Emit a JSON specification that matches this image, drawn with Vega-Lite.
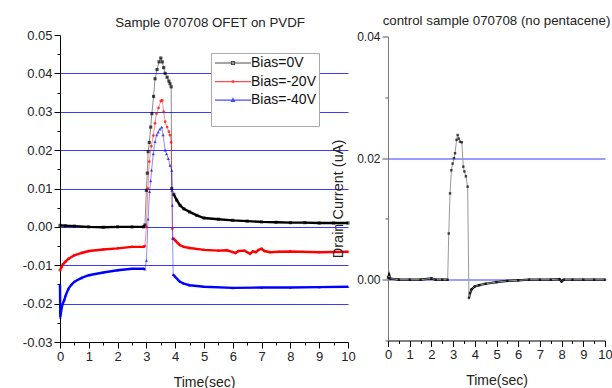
{
  "$schema": "https://vega.github.io/schema/vega-lite/v6.json",
  "background": "white",
  "padding": {"left": 22, "top": 14, "right": 2, "bottom": 0},
  "bounds": "flush",
  "spacing": 40,
  "center": true,
  "config": {
    "font": "Liberation Sans",
    "view": {"stroke": null},
    "axis": {"domainColor": "black", "tickColor": "black", "labelColor": "#222", "titleColor": "#222", "titleFontWeight": "normal", "labelFontSize": 13, "grid": false, "labelOverlap": false, "labelFlush": false},
    "title": {"fontSize": 13.3, "fontWeight": "normal", "color": "#222"}
  },
  "datasets": {
    "ofet": [
      {"s": "Bias=0V", "t": 0, "v": 0.0004}, {"s": "Bias=0V", "t": 0.2, "v": 0.0003}, {"s": "Bias=0V", "t": 0.5, "v": 0.0002},
      {"s": "Bias=0V", "t": 1.0, "v": 0.0}, {"s": "Bias=0V", "t": 1.5, "v": -0.0001}, {"s": "Bias=0V", "t": 2.0, "v": 0.0},
      {"s": "Bias=0V", "t": 2.5, "v": 0.0}, {"s": "Bias=0V", "t": 2.9, "v": 0.0}, {"s": "Bias=0V", "t": 2.95, "v": 0.0005},
      {"s": "Bias=0V", "t": 3.0, "v": 0.0095}, {"s": "Bias=0V", "t": 3.03, "v": 0.014}, {"s": "Bias=0V", "t": 3.06, "v": 0.0196},
      {"s": "Bias=0V", "t": 3.1, "v": 0.022}, {"s": "Bias=0V", "t": 3.15, "v": 0.026}, {"s": "Bias=0V", "t": 3.19, "v": 0.0295},
      {"s": "Bias=0V", "t": 3.25, "v": 0.034}, {"s": "Bias=0V", "t": 3.3, "v": 0.0386}, {"s": "Bias=0V", "t": 3.37, "v": 0.041},
      {"s": "Bias=0V", "t": 3.44, "v": 0.043}, {"s": "Bias=0V", "t": 3.5, "v": 0.044}, {"s": "Bias=0V", "t": 3.55, "v": 0.043},
      {"s": "Bias=0V", "t": 3.6, "v": 0.0415}, {"s": "Bias=0V", "t": 3.65, "v": 0.04}, {"s": "Bias=0V", "t": 3.72, "v": 0.039},
      {"s": "Bias=0V", "t": 3.78, "v": 0.038}, {"s": "Bias=0V", "t": 3.82, "v": 0.0373}, {"s": "Bias=0V", "t": 3.86, "v": 0.0365},
      {"s": "Bias=0V", "t": 3.88, "v": 0.010}, {"s": "Bias=0V", "t": 3.95, "v": 0.0085}, {"s": "Bias=0V", "t": 4.05, "v": 0.007},
      {"s": "Bias=0V", "t": 4.17, "v": 0.0056}, {"s": "Bias=0V", "t": 4.3, "v": 0.0047}, {"s": "Bias=0V", "t": 4.5, "v": 0.0039},
      {"s": "Bias=0V", "t": 4.75, "v": 0.003}, {"s": "Bias=0V", "t": 5.0, "v": 0.0023}, {"s": "Bias=0V", "t": 5.5, "v": 0.002},
      {"s": "Bias=0V", "t": 6.0, "v": 0.0017}, {"s": "Bias=0V", "t": 6.5, "v": 0.0015}, {"s": "Bias=0V", "t": 7.0, "v": 0.0013},
      {"s": "Bias=0V", "t": 7.5, "v": 0.0012}, {"s": "Bias=0V", "t": 8.0, "v": 0.0011}, {"s": "Bias=0V", "t": 8.5, "v": 0.0011},
      {"s": "Bias=0V", "t": 9.0, "v": 0.001}, {"s": "Bias=0V", "t": 9.5, "v": 0.001}, {"s": "Bias=0V", "t": 10.0, "v": 0.001},

      {"s": "Bias=-20V", "t": 0, "v": -0.0113}, {"s": "Bias=-20V", "t": 0.05, "v": -0.0105}, {"s": "Bias=-20V", "t": 0.1, "v": -0.0098},
      {"s": "Bias=-20V", "t": 0.2, "v": -0.009}, {"s": "Bias=-20V", "t": 0.3, "v": -0.0083}, {"s": "Bias=-20V", "t": 0.5, "v": -0.0074},
      {"s": "Bias=-20V", "t": 0.75, "v": -0.0068}, {"s": "Bias=-20V", "t": 1.0, "v": -0.0063}, {"s": "Bias=-20V", "t": 1.5, "v": -0.0059},
      {"s": "Bias=-20V", "t": 2.0, "v": -0.0056}, {"s": "Bias=-20V", "t": 2.5, "v": -0.0052}, {"s": "Bias=-20V", "t": 2.9, "v": -0.0052},
      {"s": "Bias=-20V", "t": 2.95, "v": -0.005}, {"s": "Bias=-20V", "t": 3.0, "v": 0.0}, {"s": "Bias=-20V", "t": 3.05, "v": 0.01},
      {"s": "Bias=-20V", "t": 3.1, "v": 0.017}, {"s": "Bias=-20V", "t": 3.17, "v": 0.021}, {"s": "Bias=-20V", "t": 3.24, "v": 0.0238},
      {"s": "Bias=-20V", "t": 3.3, "v": 0.027}, {"s": "Bias=-20V", "t": 3.35, "v": 0.0295}, {"s": "Bias=-20V", "t": 3.42, "v": 0.031},
      {"s": "Bias=-20V", "t": 3.5, "v": 0.0328}, {"s": "Bias=-20V", "t": 3.55, "v": 0.033}, {"s": "Bias=-20V", "t": 3.6, "v": 0.03},
      {"s": "Bias=-20V", "t": 3.65, "v": 0.0274}, {"s": "Bias=-20V", "t": 3.72, "v": 0.026}, {"s": "Bias=-20V", "t": 3.78, "v": 0.0248},
      {"s": "Bias=-20V", "t": 3.82, "v": 0.0239}, {"s": "Bias=-20V", "t": 3.86, "v": 0.022}, {"s": "Bias=-20V", "t": 3.9, "v": -0.0005},
      {"s": "Bias=-20V", "t": 3.93, "v": -0.003}, {"s": "Bias=-20V", "t": 4.0, "v": -0.0035}, {"s": "Bias=-20V", "t": 4.1, "v": -0.0043},
      {"s": "Bias=-20V", "t": 4.17, "v": -0.0048}, {"s": "Bias=-20V", "t": 4.3, "v": -0.0052}, {"s": "Bias=-20V", "t": 4.5, "v": -0.0055},
      {"s": "Bias=-20V", "t": 5.0, "v": -0.006}, {"s": "Bias=-20V", "t": 5.5, "v": -0.0062}, {"s": "Bias=-20V", "t": 5.8, "v": -0.0061},
      {"s": "Bias=-20V", "t": 6.0, "v": -0.0066}, {"s": "Bias=-20V", "t": 6.1, "v": -0.0068}, {"s": "Bias=-20V", "t": 6.2, "v": -0.0063},
      {"s": "Bias=-20V", "t": 6.4, "v": -0.0062}, {"s": "Bias=-20V", "t": 6.5, "v": -0.0066}, {"s": "Bias=-20V", "t": 6.6, "v": -0.007},
      {"s": "Bias=-20V", "t": 6.7, "v": -0.0064}, {"s": "Bias=-20V", "t": 6.8, "v": -0.0066}, {"s": "Bias=-20V", "t": 6.9, "v": -0.006},
      {"s": "Bias=-20V", "t": 7.0, "v": -0.0057}, {"s": "Bias=-20V", "t": 7.1, "v": -0.0063}, {"s": "Bias=-20V", "t": 7.3, "v": -0.0066},
      {"s": "Bias=-20V", "t": 7.6, "v": -0.0065}, {"s": "Bias=-20V", "t": 8.0, "v": -0.0064}, {"s": "Bias=-20V", "t": 9.0, "v": -0.0066},
      {"s": "Bias=-20V", "t": 10.0, "v": -0.0065},

      {"s": "Bias=-40V", "t": 0, "v": -0.0152}, {"s": "Bias=-40V", "t": 0.01, "v": -0.0235}, {"s": "Bias=-40V", "t": 0.03, "v": -0.0225},
      {"s": "Bias=-40V", "t": 0.06, "v": -0.021}, {"s": "Bias=-40V", "t": 0.1, "v": -0.02}, {"s": "Bias=-40V", "t": 0.15, "v": -0.019},
      {"s": "Bias=-40V", "t": 0.2, "v": -0.0178}, {"s": "Bias=-40V", "t": 0.3, "v": -0.016}, {"s": "Bias=-40V", "t": 0.4, "v": -0.015},
      {"s": "Bias=-40V", "t": 0.5, "v": -0.0143}, {"s": "Bias=-40V", "t": 0.75, "v": -0.0133}, {"s": "Bias=-40V", "t": 1.0, "v": -0.0126},
      {"s": "Bias=-40V", "t": 1.5, "v": -0.0119}, {"s": "Bias=-40V", "t": 2.0, "v": -0.0113}, {"s": "Bias=-40V", "t": 2.5, "v": -0.0109},
      {"s": "Bias=-40V", "t": 2.9, "v": -0.0109}, {"s": "Bias=-40V", "t": 2.95, "v": -0.011}, {"s": "Bias=-40V", "t": 3.0, "v": -0.0087},
      {"s": "Bias=-40V", "t": 3.06, "v": 0.002}, {"s": "Bias=-40V", "t": 3.11, "v": 0.0092}, {"s": "Bias=-40V", "t": 3.15, "v": 0.012},
      {"s": "Bias=-40V", "t": 3.18, "v": 0.0148}, {"s": "Bias=-40V", "t": 3.24, "v": 0.019}, {"s": "Bias=-40V", "t": 3.3, "v": 0.0222},
      {"s": "Bias=-40V", "t": 3.36, "v": 0.024}, {"s": "Bias=-40V", "t": 3.41, "v": 0.0247}, {"s": "Bias=-40V", "t": 3.47, "v": 0.0255},
      {"s": "Bias=-40V", "t": 3.53, "v": 0.026}, {"s": "Bias=-40V", "t": 3.58, "v": 0.024}, {"s": "Bias=-40V", "t": 3.65, "v": 0.02},
      {"s": "Bias=-40V", "t": 3.7, "v": 0.019}, {"s": "Bias=-40V", "t": 3.76, "v": 0.0178}, {"s": "Bias=-40V", "t": 3.82, "v": 0.016},
      {"s": "Bias=-40V", "t": 3.88, "v": 0.0147}, {"s": "Bias=-40V", "t": 3.89, "v": 0.0095}, {"s": "Bias=-40V", "t": 3.9, "v": 0.0056},
      {"s": "Bias=-40V", "t": 3.91, "v": -0.003}, {"s": "Bias=-40V", "t": 3.93, "v": -0.0124}, {"s": "Bias=-40V", "t": 4.0, "v": -0.013},
      {"s": "Bias=-40V", "t": 4.1, "v": -0.0138}, {"s": "Bias=-40V", "t": 4.17, "v": -0.0143}, {"s": "Bias=-40V", "t": 4.3, "v": -0.0148},
      {"s": "Bias=-40V", "t": 4.5, "v": -0.0152}, {"s": "Bias=-40V", "t": 5.0, "v": -0.0156}, {"s": "Bias=-40V", "t": 6.0, "v": -0.0159},
      {"s": "Bias=-40V", "t": 7.0, "v": -0.0158}, {"s": "Bias=-40V", "t": 8.0, "v": -0.0158}, {"s": "Bias=-40V", "t": 9.0, "v": -0.0157},
      {"s": "Bias=-40V", "t": 10.0, "v": -0.0156}
    ],
    "control": [
      {"t": 0, "v": 0.0003}, {"t": 0.05, "v": 0.0008}, {"t": 0.1, "v": 0.0002}, {"t": 0.5, "v": 0.0}, {"t": 1.0, "v": 0.0},
      {"t": 1.5, "v": 0.0}, {"t": 2.0, "v": 0.0002}, {"t": 2.2, "v": 0.0}, {"t": 2.5, "v": 0.0}, {"t": 2.75, "v": 0.0},
      {"t": 2.8, "v": 0.0076}, {"t": 2.86, "v": 0.0142}, {"t": 2.92, "v": 0.018}, {"t": 2.98, "v": 0.0191}, {"t": 3.04, "v": 0.02},
      {"t": 3.09, "v": 0.0208}, {"t": 3.16, "v": 0.023}, {"t": 3.21, "v": 0.0238}, {"t": 3.26, "v": 0.0232}, {"t": 3.32, "v": 0.0227},
      {"t": 3.4, "v": 0.0226}, {"t": 3.47, "v": 0.0186}, {"t": 3.52, "v": 0.0178}, {"t": 3.59, "v": 0.017}, {"t": 3.67, "v": 0.0153},
      {"t": 3.73, "v": -0.003}, {"t": 3.78, "v": -0.0022}, {"t": 3.85, "v": -0.0016}, {"t": 4.0, "v": -0.0011}, {"t": 4.2, "v": -0.0009},
      {"t": 4.5, "v": -0.00066}, {"t": 5.0, "v": -0.0004}, {"t": 5.5, "v": -0.0002}, {"t": 6.0, "v": -0.0001}, {"t": 6.5, "v": 0.0},
      {"t": 7.0, "v": 0.0}, {"t": 7.5, "v": 0.0}, {"t": 7.9, "v": 0.0001}, {"t": 8.0, "v": -0.0003}, {"t": 8.1, "v": 0.0},
      {"t": 8.5, "v": 0.0}, {"t": 9.0, "v": 0.0}, {"t": 9.5, "v": 0.0}, {"t": 10.0, "v": 0.0}
    ]
  },
  "hconcat": [
    {
      "width": 288,
      "height": 307,
      "title": {"text": "Sample 070708 OFET on PVDF", "offset": 0, "dx": 6},
      "data": {"name": "ofet"},
      "encoding": {
        "x": {
          "field": "t", "type": "quantitative",
          "scale": {"domain": [0, 10], "nice": false, "zero": false},
          "axis": {
            "values": [0, 0.5, 1, 1.5, 2, 2.5, 3, 3.5, 4, 4.5, 5, 5.5, 6, 6.5, 7, 7.5, 8, 8.5, 9, 9.5, 10],
            "labelExpr": "datum.value % 1 === 0 ? format(datum.value, 'd') : ''",
            "tickSize": {"condition": {"test": "datum.value % 1 !== 0", "value": 3}, "value": 6},
            "title": "Time(sec)", "titleFontSize": 14, "titlePadding": 12, "labelPadding": 2
          }
        },
        "y": {
          "field": "v", "type": "quantitative",
          "scale": {"domain": [-0.03, 0.05], "nice": false, "zero": false},
          "axis": {
            "values": [-0.03, -0.025, -0.02, -0.015, -0.01, -0.005, 0, 0.005, 0.01, 0.015, 0.02, 0.025, 0.03, 0.035, 0.04, 0.045, 0.05],
            "labelExpr": "abs(round(datum.value * 200)) % 2 === 1 ? '' : replace(format(datum.value, '.2f'), '\u2212', '-')",
            "tickSize": {"condition": {"test": "abs(round(datum.value * 200)) % 2 === 1", "value": 3}, "value": 6},
            "labelPadding": 2,
            "title": null,
            "grid": true,
            "gridColor": "#3a3aff",
            "gridWidth": 1,
            "gridOpacity": {"condition": {"test": "abs(round(datum.value * 200)) % 2 === 1 || datum.value > 0.045 || datum.value < -0.025", "value": 0}, "value": 1}
          }
        },
        "color": {
          "field": "s", "type": "nominal",
          "scale": {"domain": ["Bias=0V", "Bias=-20V", "Bias=-40V"], "range": ["black", "red", "blue"]},
          "legend": {
            "title": " ", "titleOrient": "bottom", "titleFontSize": 14, "titlePadding": 2,
            "orient": "none", "legendX": 151, "legendY": 18,
            "fillColor": "white", "strokeColor": "#aaa", "padding": 3,
            "labelFontSize": 14, "labelColor": "#111", "labelOffset": 11,
            "symbolSize": 100, "symbolOffset": 12, "symbolStrokeWidth": 1.2, "rowPadding": 4.6
          }
        }
      },
      "layer": [
        {"transform": [{"filter": "datum.t <= 2.95"}], "mark": {"type": "line", "strokeWidth": 2.4}},
        {"transform": [{"filter": "datum.t >= 3.93"}], "mark": {"type": "line", "strokeWidth": 2.4}},
        {"mark": {"type": "line", "strokeWidth": 1, "strokeOpacity": 0.45}},
        {"transform": [{"filter": "datum.s === 'Bias=0V'"}], "mark": {"type": "point", "shape": "square", "filled": true, "size": 10}, "encoding": {"color": {"value": "black"}}},
        {"transform": [{"filter": "datum.s === 'Bias=-20V'"}], "mark": {"type": "point", "shape": "circle", "filled": true, "size": 8}, "encoding": {"color": {"value": "red"}}},
        {"transform": [{"filter": "datum.s === 'Bias=-40V'"}], "mark": {"type": "point", "shape": "triangle-up", "filled": true, "size": 10}, "encoding": {"color": {"value": "blue"}}},
        {
          "mark": {"type": "point", "filled": false, "size": 0},
          "encoding": {
            "shape": {
              "field": "s", "type": "nominal",
              "scale": {
                "domain": ["Bias=0V", "Bias=-20V", "Bias=-40V"],
                "range": [
                  "M-3.6,0H3.6M-0.3,-0.3H0.3V0.3H-0.3Z",
                  "M-3.6,0H3.6M-0.22,0A0.22,0.22,0,1,1,0.22,0A0.22,0.22,0,1,1,-0.22,0Z",
                  "M-3.6,0H3.6M0,-0.32L0.3,0.22H-0.3Z"
                ]
              },
              "legend": null
            }
          }
        }
      ]
    },
    {
      "width": 217,
      "height": 304,
      "title": {"text": "control sample 070708 (no pentacene)", "offset": 3},
      "data": {"name": "control"},
      "encoding": {
        "x": {
          "field": "t", "type": "quantitative",
          "scale": {"domain": [0, 10], "nice": false, "zero": false},
          "axis": {
            "values": [0, 0.5, 1, 1.5, 2, 2.5, 3, 3.5, 4, 4.5, 5, 5.5, 6, 6.5, 7, 7.5, 8, 8.5, 9, 9.5, 10],
            "labelExpr": "datum.value % 1 === 0 ? format(datum.value, 'd') : ''",
            "tickSize": {"condition": {"test": "datum.value % 1 !== 0", "value": 3}, "value": 6},
            "title": "Time(sec)", "titleFontSize": 14, "titlePadding": 12, "labelPadding": 2
          }
        },
        "y": {
          "field": "v", "type": "quantitative",
          "scale": {"domain": [-0.01, 0.04], "nice": false, "zero": false},
          "axis": {
            "values": [-0.01, 0, 0.01, 0.02, 0.03, 0.04],
            "labelExpr": "datum.value < -0.005 || abs(round(datum.value * 100)) % 2 === 1 ? '' : replace(format(datum.value, '.2f'), '\u2212', '-')",
            "tickSize": {"condition": {"test": "abs(round(datum.value * 100)) % 2 === 1", "value": 3}, "value": 6},
            "labelFontSize": 12,
            "labelPadding": 2,
            "domainColor": "#777",
            "tickColor": "#555",
            "title": "Drain Current (uA)",
            "titleFontSize": 14.5,
            "titleX": -43,
            "titleY": 162,
            "grid": true,
            "gridColor": "#3a3aff",
            "gridWidth": 1,
            "gridOpacity": {"condition": {"test": "abs(round(datum.value * 100)) % 2 === 1 || datum.value > 0.035 || datum.value < -0.005", "value": 0}, "value": 1}
          }
        }
      },
      "layer": [
        {"transform": [{"filter": "datum.t <= 2.75"}], "mark": {"type": "line", "strokeWidth": 2.2, "color": "black"}},
        {"transform": [{"filter": "datum.t >= 3.73"}], "mark": {"type": "line", "strokeWidth": 2.2, "color": "black"}},
        {"mark": {"type": "line", "strokeWidth": 1, "color": "#999"}},
        {"mark": {"type": "point", "shape": "square", "filled": true, "size": 6, "color": "black"}}
      ]
    }
  ]
}
